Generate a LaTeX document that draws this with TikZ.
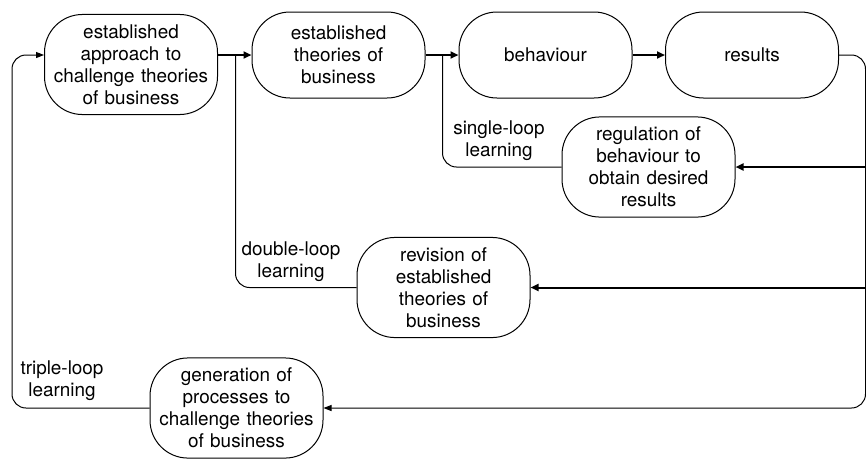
\documentclass[tikz,border=0pt]{standalone}
\usepackage{fontspec}
\setmainfont{TeX Gyre Heros}
\usetikzlibrary{arrows.meta}

\tikzset{
  stage/.style={draw, line width=1pt, rounded corners=38pt, minimum width=173pt,
    minimum height=86pt, text width=166pt, align=center, inner xsep=3.5pt, inner ysep=10pt},
  loopnote/.style={align=center},
  flow/.style={line width=2pt, -{Triangle[length=8pt,width=7pt]}},
  feed/.style={line width=1pt, -{Triangle[length=8pt,width=6pt]}},
  back/.style={line width=1pt, rounded corners=14pt},
}

\begin{document}
\begin{tikzpicture}[x=1pt, y=-1pt, font=\fontsize{18.9}{22}\selectfont]
    \useasboundingbox (0,0) rectangle (866,459);

    % Draw the main stages
    \node[stage] (approach) at (131,64.5) {established\\approach to\\challenge theories\\of business};
    \node[stage] (theories) at (338.5,55) {established\\theories of\\business};
    \node[stage] (behaviour) at (545.5,55) {behaviour};
    \node[stage] (results) at (752,55) {results};

    % Draw the learning stages
    \node[stage] (regulation) at (648.5,167) {regulation of\\behaviour to\\obtain desired\\results};
    \node[stage] (revision) at (443.5,287.5) {revision of\\established\\theories of\\business};
    \node[stage] (generation) at (236.5,408) {generation of\\processes to\\challenge theories\\of business};

    % Add labels for the loops
    \node[loopnote] (single) at (499,141) {single-loop\\learning};
    \node[loopnote] (double) at (291,262) {double-loop\\learning};
    \node[loopnote] (triple) at (62,381) {triple-loop\\learning};

    % Turning points
    \coordinate (split1) at (235.5,55);
    \coordinate (split2) at (442.5,55);
    \coordinate (leftturn) at (12,55);
    \coordinate (rightturn) at (865.5,408);

    % Draw the main line
    \draw[flow] (approach.east |- theories.west) -- (theories.west);
    \draw[flow] (theories) -- (behaviour);
    \draw[flow] (behaviour) -- (results);

    % Draw the loops
    \draw[back] (split2) |- (regulation.west);
    \draw[back] (split1) |- (revision.west);
    \draw[back, feed] (generation.west) -| (leftturn) -- (approach.west |- theories.west);
    \draw[back, feed] (results.east) -| (rightturn) -- (generation.east);
    \draw[flow] (regulation.east -| rightturn) -- (regulation.east);
    \draw[flow] (revision.east -| rightturn) -- (revision.east);
\end{tikzpicture}
\end{document}
